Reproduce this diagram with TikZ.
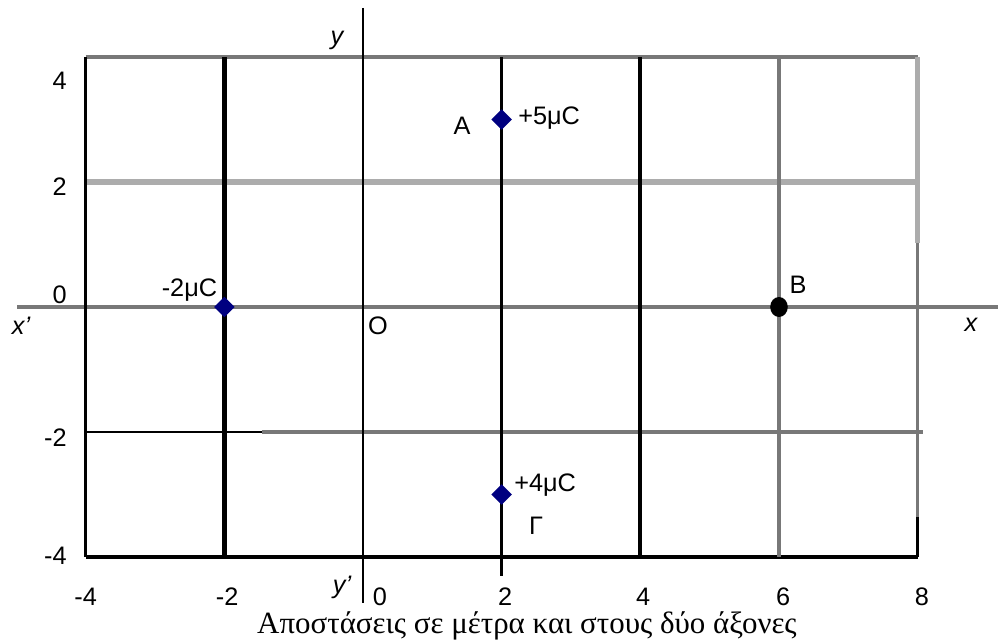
\documentclass[tikz,border=0pt]{standalone}
\usepackage{fontspec}
\setmainfont{Liberation Sans}
\newfontfamily\legende{Liberation Serif}
\usepackage{tikz}
\usetikzlibrary{shapes.geometric}
\definecolor{bleuCharge}{RGB}{0,0,128}
\definecolor{grisFonce}{RGB}{120,120,120}
\definecolor{grisClair}{RGB}{172,172,172}
\tikzset{
  grille/.style={grisFonce, line width=2.2pt},
  grilleClaire/.style={grisClair, line width=4.5pt},
  noire/.style={black, line width=#1},
  noire/.default=2.2pt,
  charge/.style={diamond, fill=bleuCharge, inner sep=0pt, minimum width=0.52cm, minimum height=0.52cm},
  point/.style={ellipse, fill=black, inner sep=0pt, minimum width=0.44cm, minimum height=0.5cm},
  etiquette/.style={inner sep=0pt, font=\fontsize{18}{20}\selectfont}
}

\begin{document}
\begin{tikzpicture}[x=1.7333cm, y=1.5625cm]
\useasboundingbox (-5.236,-5.36) rectangle (9.159,4.912);

% horizontal lines
\draw[grille] (-4,4) -- (8,4);
\draw[grilleClaire] (-4,2) -- (8,2);
\draw[grille] (-4.99,0) -- (9.159,0);
\draw[noire=1.9pt] (-4,-2) -- (-1.457,-2);
\draw[grille] (-1.457,-2) -- (8.07,-2);
\draw[noire=2.8pt] (-4,-4) -- (8,-4);

% vertical lines
\draw[noire=1.9pt] (-4,4) -- (-4,-4);
\draw[noire=3.3pt] (-2,4) -- (-2,-4);
\draw[noire=2.1pt] (0,4.784) -- (0,-4.736);
\draw[noire=2.4pt] (2,4) -- (2,-4.304);
\draw[noire=2.8pt] (4,4) -- (4,-4);
\draw[grille] (6,4) -- (6,-4);
\draw[grilleClaire, line width=4pt] (8,4) -- (8,1.024);
\draw[grille] (8,1.024) -- (8,-3.36);
\draw[noire=2.4pt] (8,-3.36) -- (8,-4);

% axis labels
\node[etiquette, font=\fontsize{18}{20}\selectfont\itshape] (y) at (-0.375,4.272) {y};
\node[etiquette, font=\fontsize{18}{20}\selectfont\itshape] (yp) at (-0.303,-4.48) {y'};
\node[etiquette, font=\fontsize{18}{20}\selectfont\itshape] (xp) at (-4.933,-0.304) {x'};
\node[etiquette, font=\fontsize{18}{20}\selectfont\itshape] (x) at (8.77,-0.288) {x};
\node[etiquette] (O) at (0.216,-0.304) {O};

% tick labels
\node[etiquette, anchor=east] (g4) at (-4.27,3.616) {4};
\node[etiquette, anchor=east] (g2) at (-4.27,1.92) {2};
\node[etiquette, anchor=east] (g0) at (-4.27,0.192) {0};
\node[etiquette, anchor=east] (gm2) at (-4.27,-2.096) {-2};
\node[etiquette, anchor=east] (gm4) at (-4.27,-3.984) {-4};
\node[etiquette, anchor=base] (bm4) at (-4,-4.784) {-4};
\node[etiquette, anchor=base] (bm2) at (-1.96,-4.784) {-2};
\node[etiquette, anchor=base] (b0) at (0.245,-4.784) {0};
\node[etiquette, anchor=base] (b2) at (2.05,-4.784) {2};
\node[etiquette, anchor=base] (b4) at (4.04,-4.784) {4};
\node[etiquette, anchor=base] (b6) at (6.06,-4.784) {6};
\node[etiquette, anchor=base] (b8) at (8.06,-4.784) {8};

% charges
\node[charge] (qA) at (2,3) {};
\node[etiquette] (A) at (1.428,2.896) {A};
\node[etiquette, anchor=base west] (vA) at (2.236,2.912) {+5μC};

\node[charge] (qM) at (-2,0) {};
\node[etiquette, anchor=base east] (vM) at (-2.1,0.16) {-2μC};

\node[point] (qB) at (6,0) {};
\node[etiquette] (B) at (6.274,0.352) {B};

\node[charge] (qG) at (2,-3) {};
\node[etiquette, anchor=base west] (vG) at (2.178,-2.96) {+4μC};
\node[etiquette] (G) at (2.495,-3.504) {Γ};

\node[inner sep=0pt, anchor=base, font=\legende\fontsize{22}{24}\selectfont] (titre) at (2.365,-5.232) {Αποστάσεις σε μέτρα και στους δύο άξονες};

\end{tikzpicture}
\end{document}
